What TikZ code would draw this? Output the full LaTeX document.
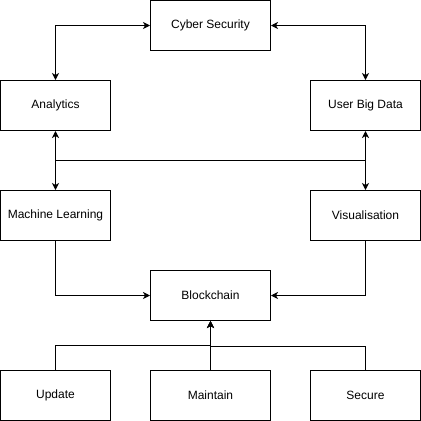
\documentclass[tikz,border=0pt]{standalone}
\usepackage{fontspec}
\setmainfont{Liberation Sans}
\usetikzlibrary{arrows.meta}

\begin{document}
\begin{tikzpicture}[x=1pt,y=1pt,yscale=-1,xscale=1,
  box/.style={draw, line width=1pt, minimum width=110pt, minimum height=50pt, inner sep=0pt, font=\fontsize{12}{14}\selectfont},
  widebox/.style={box, minimum width=120pt},
  link/.style={line width=1pt, -{Stealth[length=7pt,width=7pt,inset=2pt]}},
  twoway/.style={line width=1pt, {Stealth[length=7pt,width=7pt,inset=2pt]}-{Stealth[length=7pt,width=7pt,inset=2pt]}}]
\path[use as bounding box] (0,0) rectangle (421,421);

%Boxes
\node[widebox] (cyber) at (210.5,25.5) {Cyber Security};
\node[box] (analytics) at (55.5,105.5) {Analytics};
\node[box] (bigdata) at (365.5,105.5) {User Big Data};
\node[box] (learning) at (55.5,215.5) {Machine Learning};
\node[box] (visual) at (365.5,215.5) {Visualisation};
\node[widebox] (chain) at (210.5,295.5) {Blockchain};
\node[box] (update) at (55.5,395.5) {Update};
\node[widebox] (maintain) at (210.5,395.5) {Maintain};
\node[box] (secure) at (365.5,395.5) {Secure};

%Bends
\coordinate (busL) at (55.5,160.5);
\coordinate (busR) at (365.5,160.5);
\coordinate (joinL) at (210.5,345.5);
\coordinate (joinR) at (210.5,346);

%Top links
\draw[twoway] (analytics.north) |- (cyber.west);
\draw[twoway] (bigdata.north) |- (cyber.east);
\draw[twoway] (analytics.south) -- (busL) -| (visual.north);
\draw[twoway] (bigdata.south) -- (busR) -| (learning.north);

%Links into Blockchain
\draw[link] (learning.south) |- (chain.west);
\draw[link] (visual.south) |- (chain.east);
\draw[link] (secure.north) |- (joinR) -- (chain.south);
\draw[link] (update.north) |- (joinL) -- (chain.south);
\draw[link] (maintain.north) -- (chain.south);

\end{tikzpicture}
\end{document}
